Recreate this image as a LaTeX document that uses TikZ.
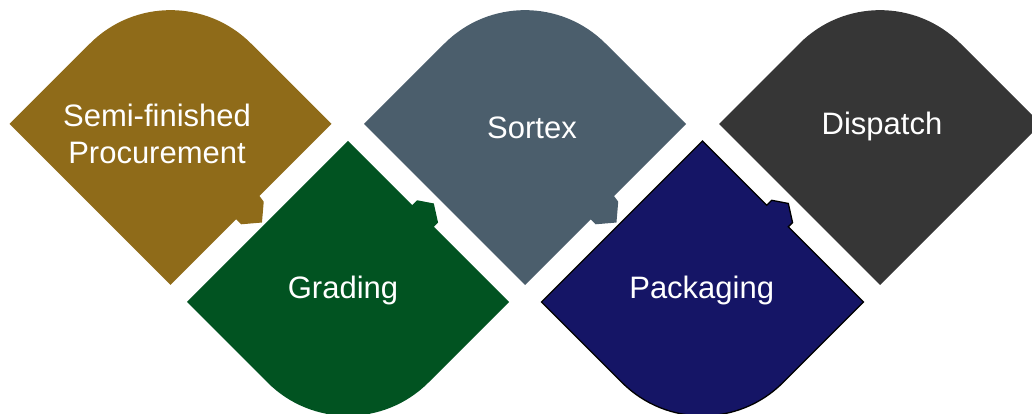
\documentclass[tikz,border=0pt]{standalone}
\usepackage{fontspec}
\setmainfont{Liberation Sans}
\definecolor{cgold}{RGB}{143,107,25}
\definecolor{cgreen}{RGB}{1,83,33}
\definecolor{cslate}{RGB}{75,94,108}
\definecolor{cnavy}{RGB}{21,21,102}
\definecolor{cdark}{RGB}{54,54,54}
\tikzset{
  blockfill/.style={draw=none},
  lbl/.style={text=white, font=\fontsize{31}{37}\selectfont, inner sep=0pt, anchor=base},
}
\begin{document}
\begin{tikzpicture}[x=1pt,y=1pt]
\useasboundingbox (0,0) rectangle (1032,414);
% tab coordinates
\begin{scope}[shift={(251,209.5)}, rotate=225]
  \coordinate (a1) at (-12,0); \coordinate (b1) at (-11,7); \coordinate (c1) at (5,20.5);
  \coordinate (d1) at (21,7); \coordinate (e1) at (21,0);
\end{scope}
\begin{scope}[shift={(605.5,209.5)}, rotate=225]
  \coordinate (a3) at (-12,0); \coordinate (b3) at (-11,7); \coordinate (c3) at (5,20.5);
  \coordinate (d3) at (21,7); \coordinate (e3) at (21,0);
\end{scope}
\begin{scope}[shift={(428.5,192.5)}, rotate=-45]
  \coordinate (a2) at (-23,0); \coordinate (b2) at (-23,7); \coordinate (c2) at (-9,16.5);
  \coordinate (d2) at (7.5,6); \coordinate (e2) at (7.5,0);
\end{scope}
\begin{scope}[shift={(783,192.5)}, rotate=-45]
  \coordinate (a4) at (-23,0); \coordinate (b4) at (-23,7); \coordinate (c4) at (-9,16.5);
  \coordinate (d4) at (7.5,6); \coordinate (e4) at (7.5,0);
\end{scope}
% Shape 1: Semi-finished Procurement
\fill[cgold] (9.5,290) -- (90,370.5) arc[start angle=135, end angle=45, radius=113.84pt]
  -- (331.5,290) -- (a1) -- (b1) -- (c1) -- (d1) -- (e1) -- (170.5,129) -- cycle;
% Shape 3: Sortex
\fill[cslate] (364,290) -- (444.5,370.5) arc[start angle=135, end angle=45, radius=113.84pt]
  -- (686,290) -- (a3) -- (b3) -- (c3) -- (d3) -- (e3) -- (525,129) -- cycle;
% Shape 5: Dispatch
\fill[cdark] (719,290) -- (799.5,370.5) arc[start angle=135, end angle=45, radius=113.84pt]
  -- (1041,290) -- (880,129) -- cycle;
% Shape 2: Grading
\fill[cgreen] (187,112) -- (348,273) -- (a2) -- (b2) -- (c2) -- (d2) -- (e2)
  -- (509,112) -- (428.5,31.5) arc[start angle=-45, end angle=-135, radius=113.84pt] -- cycle;
% Shape 4: Packaging
\filldraw[fill=cnavy, draw=black, line width=1.3pt, line join=miter] (541.5,112) -- (702.5,273) -- (a4) -- (b4) -- (c4) -- (d4) -- (e4)
  -- (863.5,112) -- (783,31.5) arc[start angle=-45, end angle=-135, radius=113.84pt] -- cycle;
% labels
\node[lbl] (semi) at (157,287) {Semi-finished};
\node[lbl] (proc) at (157,250) {Procurement};
\node[lbl] (sortex) at (532,275) {Sortex};
\node[lbl] (dispatch) at (882,279) {Dispatch};
\node[lbl] (grading) at (343,115.7) {Grading};
\node[lbl] (packaging) at (701.7,115.7) {Packaging};
\end{tikzpicture}
\end{document}
